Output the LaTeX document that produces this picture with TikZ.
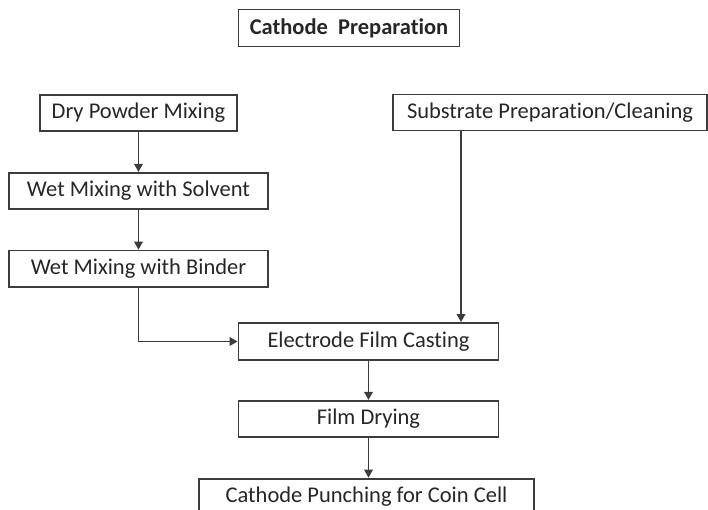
\documentclass[tikz,border=0pt]{standalone}
\usepackage{fontspec}
\setmainfont[Ligatures=NoCommon]{Carlito}
\usepackage{tikz}
\usetikzlibrary{positioning, calc, arrows.meta}
\usepackage{xcolor}
\definecolor{boxline}{HTML}{3C3C3C}
\definecolor{boxtext}{HTML}{262626}
\tikzstyle{Step} = [
draw=boxline, line width=1.8pt,
text=boxtext, minimum height=36pt,
inner sep=0pt, font=\fontsize{22.5}{26}\selectfont]
\tikzstyle{Arrow} = [
draw=boxline, line width=1.8pt,
-{Triangle[length=8pt,width=8.5pt]}]

\begin{document}
\begin{tikzpicture}[x=1pt, y=1pt]
    \useasboundingbox (0,0) rectangle (708,-510);
    \clip (0,0) rectangle (708,-510);

    \node [Step, minimum width=221pt, minimum height=37pt,
        font=\fontsize{22.5}{26}\selectfont\bfseries] (title) at (349,-28) {Cathode\ \ Preparation};

    \node [Step, minimum width=197pt] (dry) at (138.5,-113) {Dry Powder Mixing};
    \node [Step, minimum width=259pt, below =40pt of dry] (solvent) {Wet Mixing with Solvent};
    \node [Step, minimum width=259pt, below =40pt of solvent] (binder) {Wet Mixing with Binder};
    \node [Step, minimum width=314pt] (sub) at (550,-112.5) {Substrate Preparation/Cleaning};

    \node [Step, minimum width=260pt, minimum height=37pt] (cast) at (368.5,-341.5) {Electrode Film Casting};
    \node [Step, minimum width=260pt, below =39pt of cast] (dry2) {Film Drying};
    \node [Step, minimum width=335pt, below =40pt of dry2, xshift=-2pt] (punch) {Cathode Punching for Coin Cell};

    \coordinate (feed) at ([xshift=92.5pt]cast.north);

    \draw[Arrow] (dry) -- (solvent);
    \draw[Arrow] (solvent) -- (binder);
    \draw[Arrow] (binder.south) |- (cast.west);
    \draw[Arrow] (feed |- sub.south) -- (feed);
    \draw[Arrow] (cast) -- (dry2);
    \draw[Arrow] (dry2.south) -- (dry2.south |- punch.north);
\end{tikzpicture}
\end{document}
